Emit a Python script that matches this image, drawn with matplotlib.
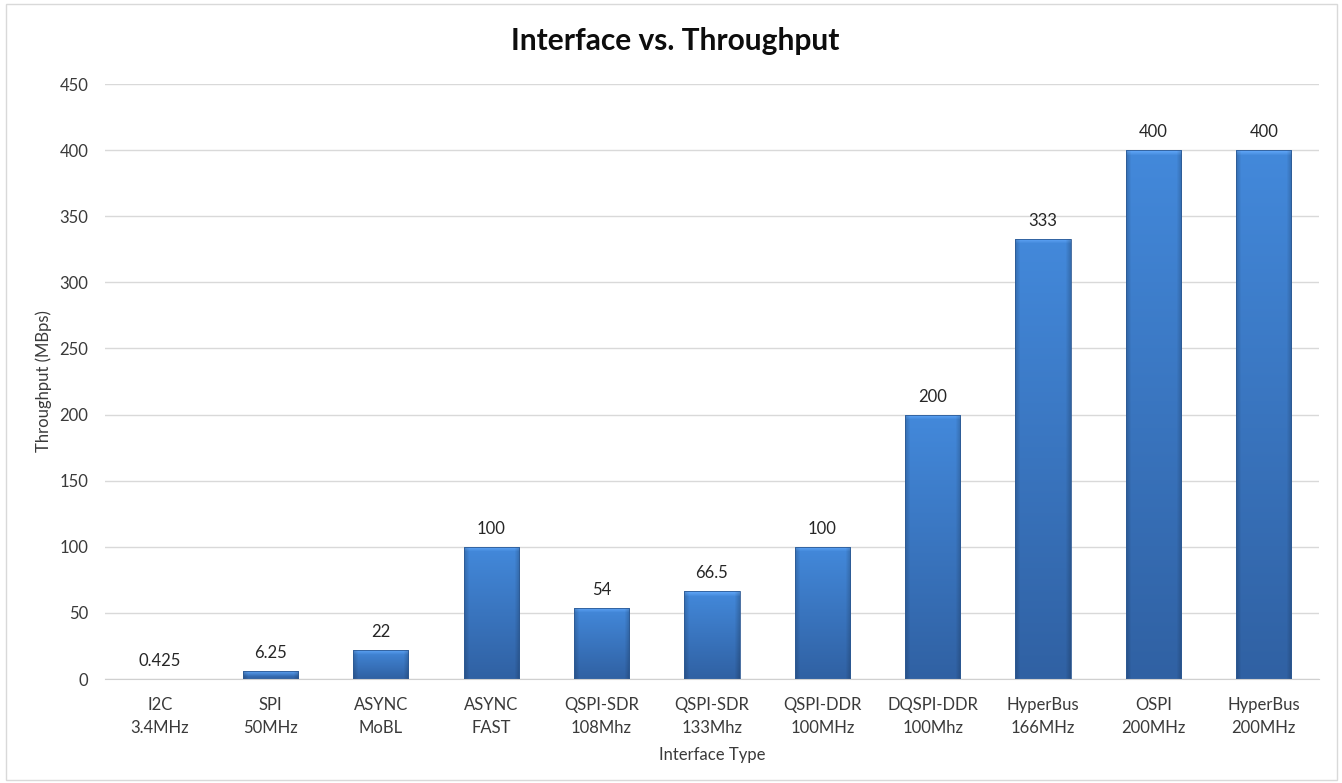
import numpy as np
import matplotlib.pyplot as plt
from matplotlib.colors import to_rgb
from matplotlib.patches import Rectangle

plt.rcParams['font.family'] = ['Lato', 'DejaVu Sans']

categories = ['I2C\n3.4MHz', 'SPI\n50MHz', 'ASYNC\nMoBL', 'ASYNC\nFAST',
              'QSPI-SDR\n108Mhz', 'QSPI-SDR\n133Mhz', 'QSPI-DDR\n100MHz',
              'DQSPI-DDR\n100Mhz', 'HyperBus\n166MHz', 'OSPI\n200MHz',
              'HyperBus\n200MHz']
throughput = [0.425, 6.25, 22, 100, 54, 66.5, 100, 200, 333, 400, 400]
value_labels = ['0.425', '6.25', '22', '100', '54', '66.5', '100', '200', '333', '400', '400']

W, H, DPI = 1342, 783, 100
fig = plt.figure(figsize=(W / DPI, H / DPI), dpi=DPI)
ax = fig.add_axes([0.0781, 0.1328, 0.9048, 0.7599])

x = np.arange(len(categories))
bars = ax.bar(x, throughput, width=0.5, color='none', edgecolor='#2d5a94',
              linewidth=0.6, zorder=3)

# shaded fill for each bar (vertical gradient + darker side bevels)
top_c = np.array(to_rgb('#4389db'))
bot_c = np.array(to_rgb('#3061a3'))
ymax = 450
px_per_unit = (0.7599 * H) / ymax
for b in bars:
    bx, bw, bh = b.get_x(), b.get_width(), b.get_height()
    if bh * px_per_unit < 1.5:
        b.set_edgecolor('none')
        continue
    hpx = bh * px_per_unit
    rows, cols = max(int(hpx), 2), 56
    t = np.linspace(0, 1, rows)[:, None]  # 0 at top
    img = top_c * (1 - t[..., None]) + bot_c * t[..., None]
    img = np.repeat(img, cols, axis=1)
    u = np.linspace(0, 1, cols)
    edge = np.minimum(u, 1 - u) * cols
    side = np.clip(edge / 5.0, 0, 1)
    fac = 0.82 + 0.18 * side
    img = img * fac[None, :, None]
    # top bevel highlight
    rr = np.arange(rows)
    topband = np.clip(1 - rr / 5.0, 0, 1)
    img = img + (0.12 * topband)[:, None, None]
    img = np.clip(img, 0, 1)
    im = ax.imshow(img, extent=[bx, bx + bw, 0, bh], aspect='auto',
                   zorder=2, interpolation='bilinear')
    im.set_clip_path(b)

for xi, v, lab in zip(x, throughput, value_labels):
    ax.annotate(lab, (xi, v), xytext=(0, 7), textcoords='offset points',
                ha='center', va='bottom', fontsize=12, color='#262626')

ax.set_xlim(-0.5, len(categories) - 0.5)
ax.set_ylim(0, ymax)
ax.set_yticks(np.arange(0, 451, 50))
ax.set_xticks(x)
ax.set_xticklabels(categories, fontsize=12, color='#3a3a3a', linespacing=1.5)
ax.tick_params(axis='y', labelsize=12, colors='#3a3a3a', length=0, pad=12)
ax.tick_params(axis='x', length=0, pad=13)
ax.grid(axis='y', color='#d9d9d9', linewidth=1)
ax.set_axisbelow(True)
for s in ['top', 'right', 'left']:
    ax.spines[s].set_visible(False)
ax.spines['bottom'].set_color('#d0d0d0')

ax.set_ylabel('Throughput (MBps)', fontsize=12, color='#3a3a3a', labelpad=5)
ax.set_xlabel('Interface Type', fontsize=12, color='#3a3a3a', labelpad=8)
fig.text(0.503, 0.948, 'Interface vs. Throughput', ha='center', va='center',
         fontsize=21.5, fontweight='bold', color='#0d0d0d')

fig.patches.append(Rectangle((6 / W, 3 / H), (W - 11) / W, (H - 7) / H,
                             transform=fig.transFigure, fill=False,
                             edgecolor='#d9d9d9', linewidth=1))

fig.savefig('out.png', dpi=DPI)
